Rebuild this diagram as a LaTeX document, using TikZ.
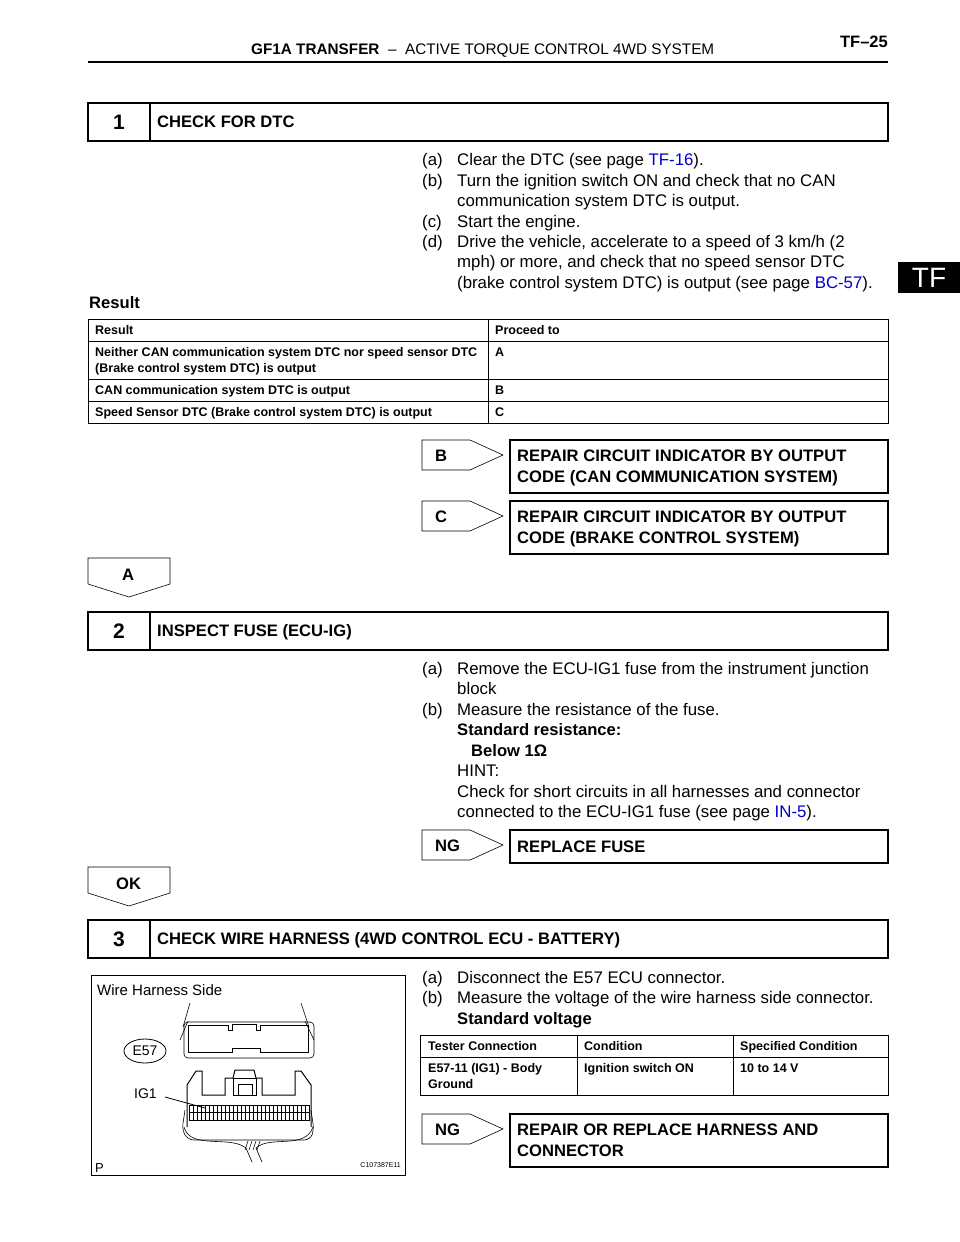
\documentclass[tikz,border=0pt]{standalone}
\usepackage{fontspec}
\setmainfont{Liberation Sans}
\usetikzlibrary{positioning,calc,shapes.geometric}
\begin{document}
\begin{tikzpicture}[x=1pt,y=-1pt,
        txt/.style={anchor=base west, inner sep=0pt, font=\fontsize{16.8}{18}\selectfont},
        cell/.style={anchor=base west, inner sep=0pt, font=\fontsize{12.5}{14}\selectfont\bfseries},
        boxtxt/.style={anchor=base west, inner sep=0pt, align=left, font=\fontsize{16.6}{20.5}\selectfont\bfseries},
        num/.style={font=\fontsize{21}{22}\selectfont\bfseries},
        frame/.style={draw=black, line width=1.4pt},
        thin/.style={draw=black, line width=0.6pt},
    ]
    \useasboundingbox (0,0) rectangle (960,1242);

    % Header
    \node[txt, font=\fontsize{15.3}{17}\selectfont] (head) at (251,54) {\textbf{GF1A TRANSFER} \ -- \ ACTIVE TORQUE CONTROL 4WD SYSTEM};
    \node[anchor=base east, inner sep=0pt, font=\fontsize{16.5}{17}\selectfont\bfseries] (page) at (888,47) {TF--25};
    \draw[line width=1.6pt] (88,62) -- (888,62);
    \fill[black] (898,262) rectangle (960,293);
    \node[text=white, font=\fontsize{28}{30}\selectfont] (tab) at (929,278) {TF};

    % Step 1
    \draw[frame] (88,103) rectangle (888,141);
    \draw[frame] (150,103) -- (150,141);
    \node[num] (n1) at (119,122) {1};
    \node[boxtxt] (s1) at (157,127) {CHECK FOR DTC};

    \node[txt] (a1) at (422,165) {(a)};
    \node[txt] at (457,165) {Clear the DTC (see page \textcolor{blue!80!black}{TF-16}).};
    \node[txt] (b1) at (422,186) {(b)};
    \node[txt] at (457,186) {Turn the ignition switch ON and check that no CAN};
    \node[txt] at (457,206) {communication system DTC is output.};
    \node[txt] (c1) at (422,227) {(c)};
    \node[txt] at (457,227) {Start the engine.};
    \node[txt] (d1) at (422,247) {(d)};
    \node[txt] at (457,247) {Drive the vehicle, accelerate to a speed of 3 km/h (2};
    \node[txt] at (457,267) {mph) or more, and check that no speed sensor DTC};
    \node[txt] at (457,288) {(brake control system DTC) is output (see page \textcolor{blue!80!black}{BC-57}).};
    \node[txt, font=\fontsize{16.6}{18}\selectfont\bfseries] (res) at (89,308) {Result};

    % Result table
    \draw[thin] (88,319) rectangle (888,423);
    \foreach \yy in {341,379,401} \draw[thin] (88,\yy) -- (888,\yy);
    \draw[thin] (488,319) -- (488,423);
    \node[cell] at (95,334) {Result};
    \node[cell] at (495,334) {Proceed to};
    \node[cell] at (95,356) {Neither CAN communication system DTC nor speed sensor DTC};
    \node[cell] at (95,372) {(Brake control system DTC) is output};
    \node[cell] at (495,356) {A};
    \node[cell] at (95,394) {CAN communication system DTC is output};
    \node[cell] at (495,394) {B};
    \node[cell] at (95,416) {Speed Sensor DTC (Brake control system DTC) is output};
    \node[cell] at (495,416) {C};

    % B and C exits
    \draw[thin] (422,440) -- (470,440) -- (503,455) -- (470,470) -- (422,470) -- cycle;
    \node[boxtxt] (tb) at (435,461) {B};
    \draw[frame, line width=1.2pt] (510,440) rectangle (888,493);
    \node[boxtxt] (rb) at (517,482) {REPAIR CIRCUIT INDICATOR BY OUTPUT\\CODE (CAN COMMUNICATION SYSTEM)};
    \draw[thin] (422,501) -- (470,501) -- (503,516) -- (470,531) -- (422,531) -- cycle;
    \node[boxtxt] (tc) at (435,522) {C};
    \draw[frame, line width=1.2pt] (510,501) rectangle (888,554);
    \node[boxtxt] (rc) at (517,543) {REPAIR CIRCUIT INDICATOR BY OUTPUT\\CODE (BRAKE CONTROL SYSTEM)};

    % A
    \draw[thin] (88,558) -- (170,558) -- (170,584) -- (129,597) -- (88,584) -- cycle;
    \node[boxtxt] (ta) at (122,580) {A};

    % Step 2
    \draw[frame] (88,612) rectangle (888,650);
    \draw[frame] (150,612) -- (150,650);
    \node[num] (n2) at (119,631) {2};
    \node[boxtxt] (s2) at (157,636) {INSPECT FUSE (ECU-IG)};

    \node[txt] at (422,674) {(a)};
    \node[txt] at (457,674) {Remove the ECU-IG1 fuse from the instrument junction};
    \node[txt] at (457,694) {block};
    \node[txt] at (422,715) {(b)};
    \node[txt] at (457,715) {Measure the resistance of the fuse.};
    \node[txt, font=\fontsize{16.6}{18}\selectfont\bfseries] at (457,735) {Standard resistance:};
    \node[txt, font=\fontsize{16.6}{18}\selectfont\bfseries] at (471,756) {Below 1Ω};
    \node[txt] at (457,776) {HINT:};
    \node[txt] at (457,797) {Check for short circuits in all harnesses and connector};
    \node[txt] at (457,817) {connected to the ECU-IG1 fuse (see page \textcolor{blue!80!black}{IN-5}).};

    \draw[thin] (422,830) -- (470,830) -- (503,845) -- (470,860) -- (422,860) -- cycle;
    \node[boxtxt] (tng1) at (435,851) {NG};
    \draw[frame, line width=1.2pt] (510,830) rectangle (888,863);
    \node[boxtxt] (rf) at (517,852) {REPLACE FUSE};

    \draw[thin] (88,867) -- (170,867) -- (170,893) -- (129,906) -- (88,893) -- cycle;
    \node[boxtxt] (tok) at (116,889) {OK};

    % Step 3
    \draw[frame] (88,920) rectangle (888,958);
    \draw[frame] (150,920) -- (150,958);
    \node[num] (n3) at (119,939) {3};
    \node[boxtxt] (s3) at (157,944) {CHECK WIRE HARNESS (4WD CONTROL ECU - BATTERY)};

    \node[txt] at (422,983) {(a)};
    \node[txt] at (457,983) {Disconnect the E57 ECU connector.};
    \node[txt] at (422,1003) {(b)};
    \node[txt] at (457,1003) {Measure the voltage of the wire harness side connector.};
    \node[txt, font=\fontsize{16.6}{18}\selectfont\bfseries] at (457,1024) {Standard voltage};

    \draw[thin] (420,1035) rectangle (888,1095);
    \draw[thin] (420,1057) -- (888,1057);
    \draw[thin] (577,1035) -- (577,1095);
    \draw[thin] (733,1035) -- (733,1095);
    \node[cell] at (428,1050) {Tester Connection};
    \node[cell] at (584,1050) {Condition};
    \node[cell] at (740,1050) {Specified Condition};
    \node[cell] at (428,1072) {E57-11 (IG1) - Body};
    \node[cell] at (428,1088) {Ground};
    \node[cell] at (584,1072) {Ignition switch ON};
    \node[cell] at (740,1072) {10 to 14 V};

    \draw[thin] (422,1114) -- (470,1114) -- (503,1129) -- (470,1144) -- (422,1144) -- cycle;
    \node[boxtxt] (tng2) at (435,1135) {NG};
    \draw[frame, line width=1.2pt] (510,1114) rectangle (888,1167);
    \node[boxtxt] (rh) at (517,1156) {REPAIR OR REPLACE HARNESS AND\\CONNECTOR};

    % Connector figure
    \draw[thin] (91,975) rectangle (405,1175);
    \node[txt, font=\fontsize{15}{17}\selectfont] (whs) at (97,995) {Wire Harness Side};
    \node[txt, font=\fontsize{13}{15}\selectfont] (pp) at (95,1172) {P};
    \node[anchor=base east, inner sep=0pt, font=\fontsize{7}{8}\selectfont] (code) at (401,1167) {C107387E11};
    % upper part
    \draw[thin, rounded corners=4pt] (184,1022) rectangle (314,1058);
    \draw[thin] (188,1021) -- (180,1040);
    \draw[thin] (190,1003) -- (183,1027);
    \draw[thin] (301,1003) -- (309,1027);
    \draw[thin] (305,1021) -- (314,1040);
    \draw[line width=1pt] (188,1025) -- (228,1025) -- (228,1030) -- (232,1030) -- (232,1024) -- (256,1024) -- (256,1030) -- (260,1030) -- (260,1025) -- (308,1025)
        -- (308,1052) -- (260,1052) -- (260,1048) -- (232,1048) -- (232,1052) -- (188,1052) -- cycle;
    \node[ellipse, draw, line width=0.8pt, inner sep=1pt, minimum width=42pt, minimum height=24pt, font=\fontsize{14}{15}\selectfont] (e57) at (145,1051) {E57};
    % lower part
    \draw[line width=1pt] (187,1127) -- (187,1085) -- (196,1071) -- (202,1071) -- (202,1095) -- (225,1095) -- (225,1078) -- (233,1078) -- (235,1070) -- (254,1070) -- (256,1078) -- (262,1078) -- (262,1095) -- (295,1095) -- (295,1071) -- (301,1071) -- (311,1085) -- (311,1127);
    \draw[thin] (233,1078) rectangle (256,1095);
    \draw[thin] (238,1084) rectangle (252,1095);
    \draw[thin] (189,1105) rectangle (309,1120);
    \foreach \xx in {193,197,...,305} \draw[thin] (\xx,1105) -- (\xx,1120);
    \draw[thin] (189,1112) -- (309,1112);
    \draw[thin, rounded corners=6pt] (185,1110) -- (182,1130) -- (188,1140) -- (310,1140) -- (314,1130) -- (311,1110);
    \draw[thin] (184,1127) .. controls (190,1150) and (230,1135) .. (246,1148) -- (252,1162);
    \draw[thin] (313,1127) .. controls (305,1150) and (270,1135) .. (256,1148) -- (262,1162);
    \foreach \xx in {245,249,253,257} \draw[thin] (\xx,1150) -- (\xx+3,1141);
    \node[txt, font=\fontsize{14}{15}\selectfont] (ig1) at (134,1098) {IG1};
    \coordinate (pin) at (205,1108);
    \draw[line width=0.8pt] (165,1097) -- (pin);
\end{tikzpicture}
\end{document}
